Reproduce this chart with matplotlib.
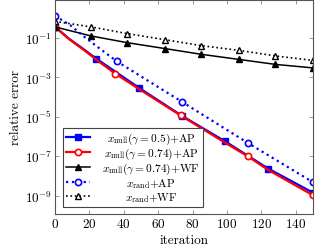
import numpy as np
import matplotlib
matplotlib.use("Agg")
import matplotlib.pyplot as plt

# ---- datos (log10 del error relativo) ----
it_null05 = [0, 8, 16, 24, 49, 74, 99, 124, 150]
err_null05 = [-0.43, -1.03, -1.53, -2.05, -3.54, -4.96, -6.25, -7.63, -8.85]
mk_null05 = [0, 3, 4, 5, 6, 7, 8]

it_null074 = [0, 8, 16, 24, 35, 49, 73, 99, 112, 124, 150]
err_null074 = [-0.43, -1.05, -1.56, -2.1, -2.81, -3.6, -4.93, -6.32, -7.0, -7.7, -8.98]
mk_null074 = [0, 4, 6, 8, 10]

it_wf = [0, 21, 42, 64, 85, 107, 128, 150]
err_null_wf = [-0.44, -0.90, -1.24, -1.54, -1.83, -2.09, -2.34, -2.52]
err_rand_wf = [-0.16, -0.44, -0.78, -1.09, -1.39, -1.63, -1.91, -2.14]

it_rand_ap = [0, 9, 16, 26, 36, 74, 112, 150]
err_rand_ap = [0.12, -0.36, -0.87, -1.54, -2.19, -4.25, -6.32, -8.32]
mk_rand_ap = [0, 4, 5, 6, 7]

labels = [r'$x_{\rm null}(\gamma = 0.5)$+AP',
          r'$x_{\rm null}(\gamma = 0.74)$+AP',
          r'$x_{\rm null}(\gamma = 0.74)$+WF',
          r'$x_{\rm rand}$+AP',
          r'$x_{\rm rand}$+WF']

# ---- estilo ----
plt.rcParams['font.family'] = 'cmr10'
plt.rcParams['mathtext.fontset'] = 'cm'
plt.rcParams['axes.formatter.use_mathtext'] = True
plt.rcParams['font.size'] = 9

fig = plt.figure(figsize=(3.15, 2.51), dpi=100)
ax = fig.add_axes([55 / 315, 36 / 251, 258 / 315, 214.5 / 251])

def p10(v):
    return 10.0 ** np.array(v)

ax.plot(it_null05, p10(err_null05), color='blue', lw=1.6, marker='s', ms=4.5,
        markevery=mk_null05, label=labels[0])
ax.plot(it_null074, p10(err_null074), color='red', lw=1.6, marker='o', ms=4.5,
        mfc='white', mew=1.2, markevery=mk_null074, label=labels[1])
ax.plot(it_wf, p10(err_null_wf), color='black', lw=1.1, marker='^', ms=4.5,
        label=labels[2])
ax.plot(it_rand_ap, p10(err_rand_ap), color='blue', lw=1.6, ls=':', marker='o', ms=4.5,
        mfc='white', mew=1.2, markevery=mk_rand_ap, label=labels[3])
ax.plot(it_wf, p10(err_rand_wf), color='black', lw=1.2, ls=':', marker='^', ms=4.5,
        mfc='white', mew=1.0, label=labels[4])

ax.set_yscale('log')
ax.set_xlim(0, 150)
ax.set_ylim(10 ** -9.93, 10 ** 0.95)
ax.set_xticks(range(0, 141, 20))
ax.set_yticks([1e-9, 1e-7, 1e-5, 1e-3, 1e-1])
ax.minorticks_off()
ax.tick_params(direction='in', top=True, right=True, length=3, width=0.6,
               color='#888888', pad=2, labelsize=9.5)
for s in ax.spines.values():
    s.set_color('#555555')
    s.set_linewidth(0.8)

ax.set_xlabel('iteration', fontsize=9.5, labelpad=3)
ax.set_ylabel('relative error', fontsize=9.5, labelpad=2)

leg = ax.legend(loc='lower left', bbox_to_anchor=(8 / 258, 7 / 214.5), borderaxespad=0,
                fontsize=8.2, fancybox=False, framealpha=1, edgecolor='#444444',
                handlelength=2.1, handletextpad=1.1, labelspacing=0.0, borderpad=0.25)
leg.get_frame().set_linewidth(0.8)

# centrar los textos de la leyenda (como en pgfplots)
fig.canvas.draw()
r = fig.canvas.get_renderer()
anchos = [t.get_window_extent(r).width * 72 / fig.dpi for t in leg.get_texts()]
wmax = max(anchos)
cajas = []
for col in leg._legend_handle_box.get_children():
    cajas += col.get_children()
for caja, w in zip(cajas, anchos):
    caja.sep = caja.sep + (wmax - w) / 2

fig.savefig('out.png', dpi=100)
